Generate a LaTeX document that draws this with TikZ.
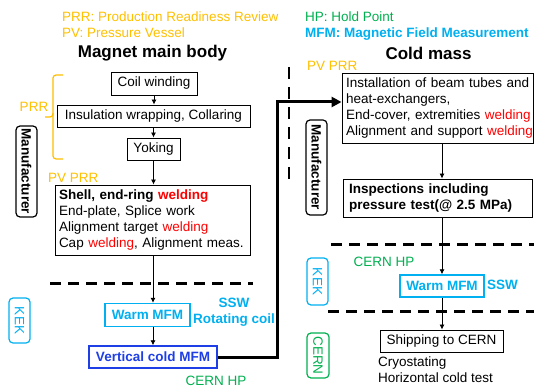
\documentclass[tikz,border=0pt]{standalone}
\usepackage{fontspec}
\setmainfont{Liberation Sans}
\usetikzlibrary{arrows.meta}
\definecolor{prrorange}{HTML}{FFC000}
\definecolor{hpgreen}{HTML}{00B050}
\definecolor{mfmblue}{HTML}{00B0F0}
\definecolor{vcblue}{HTML}{1F3FE6}
\definecolor{weldred}{HTML}{FF0000}
\newcommand{\weld}{\textcolor{weldred}{welding}}
\begin{document}
\begin{tikzpicture}[x=1pt,y=-1pt,
  font=\fontsize{13.5pt}{16pt}\selectfont,
  box/.style={draw=black, line width=0.9pt, inner sep=0pt, align=center},
  mbox/.style={draw=black, line width=0.9pt, inner xsep=4pt, inner ysep=0pt, align=left},
  flow/.style={draw=black, line width=0.8pt, -{Latex[length=5pt,width=5pt]}},
  sepline/.style={line width=3pt, dash pattern=on 11pt off 7pt},
  sidebox/.style={rounded corners=4pt, line width=1.2pt, rotate=-90, inner sep=0pt, align=center},
  note/.style={inner sep=0pt},
  titletext/.style={inner sep=0pt, font=\fontsize{17pt}{20pt}\selectfont\bfseries}
]
\fill[white] (0,0) rectangle (534,387);
\useasboundingbox (0,0) rectangle (534,387);

% legend
\node[note, anchor=west, text=prrorange] (lprr) at (62,17) {PRR: Production Readiness Review};
\node[note, anchor=west, text=prrorange] (lpv) at (62,33) {PV: Pressure Vessel};
\node[note, anchor=west, text=hpgreen] (lhp) at (305,17) {HP: Hold Point};
\node[note, anchor=west, text=mfmblue, font=\fontsize{13.5pt}{16pt}\selectfont\bfseries] (lmfm) at (305,34) {MFM: Magnetic Field Measurement};

% titles
\node[titletext] (t1) at (152.5,53) {Magnet main body};
\node[titletext] (t2) at (428.5,53) {Cold mass};

% left column
\node[box, minimum width=86pt, minimum height=23pt] (coil) at (154,83.5) {Coil winding};
\node[box, minimum width=193pt, minimum height=22pt] (ins) at (153.5,116) {Insulation wrapping, Collaring};
\node[box, minimum width=53pt, minimum height=22pt] (yoke) at (153.5,149) {Yoking};
\node[mbox, text width=187pt, minimum height=70pt] (shell) at (152.5,220)
  {\mbox{\textbf{Shell, end-ring \textcolor{weldred}{welding}}}\\\mbox{End-plate, Splice work}\\\mbox{Alignment target \weld}\\\mbox{Cap \weld, Alignment meas.}};
\node[box, draw=mfmblue, line width=1.4pt, text=mfmblue, font=\fontsize{13.5pt}{16pt}\selectfont\bfseries,
  minimum width=85pt, minimum height=23pt] (warmL) at (147.5,315) {Warm MFM};
\node[box, draw=vcblue, line width=1.4pt, text=vcblue, font=\fontsize{13.5pt}{16pt}\selectfont\bfseries,
  minimum width=128pt, minimum height=22pt] (vcold) at (153,357) {Vertical cold MFM};

\draw[flow] (coil.south) -- (coil.south |- ins.north);
\draw[flow] (ins.south -| yoke.north) -- (yoke.north);
\draw[flow] (yoke.south) -- (yoke.south |- shell.north);
\draw[flow] (153,255) -- (warmL.north -| 153,0);
\draw[flow] (warmL.south -| 153,0) -- (vcold.north -| 153,0);

% left annotations
\node[note, text=prrorange] (prrlab) at (34,107) {PRR};
\draw[prrorange, line width=1.2pt, rounded corners=3pt] (63,75) -- (53,75) -- (53,117) -- (45,117);
\draw[prrorange, line width=1.2pt, rounded corners=3pt] (53,113) -- (53,159) -- (63,159);
\node[note, anchor=west, text=prrorange] (pvprrL) at (48,178) {PV PRR};
\node[sidebox, draw=black, font=\fontsize{13.5pt}{16pt}\selectfont\bfseries, minimum width=91pt, minimum height=21pt] (manL) at (26.5,171.5) {Manufacturer};
\node[sidebox, draw=mfmblue, text=mfmblue, minimum width=45pt, minimum height=21pt] (kekL) at (19.5,320.5) {KEK};
\draw[sepline] (50,283) -- (253,283);
\node[note, text=mfmblue, font=\fontsize{13.5pt}{16pt}\selectfont\bfseries, align=center] (sswL) at (234,312) {SSW\\Rotating coil};
\node[note, text=hpgreen] (hpL) at (216,381) {CERN HP};

% right column
\node[mbox, inner xsep=4pt, text width=183pt, minimum height=70pt] (cm1) at (437.5,108)
  {\mbox{Installation of beam tubes and}\\\mbox{heat-exchangers,}\\\mbox{End-cover, extremities \weld}\\\mbox{Alignment and support \weld}};
\node[mbox, inner xsep=6pt, text width=177pt, minimum height=38pt, font=\fontsize{13.5pt}{16pt}\selectfont\bfseries] (insp) at (437.5,198)
  {Inspections including\\pressure test(@ 2.5 MPa)};
\node[box, draw=mfmblue, line width=1.4pt, text=mfmblue, font=\fontsize{13.5pt}{16pt}\selectfont\bfseries,
  minimum width=84pt, minimum height=22pt] (warmR) at (442,286) {Warm MFM};
\node[box, minimum width=123pt, minimum height=22pt] (ship) at (441.5,341) {Shipping to CERN};
\node[note, anchor=north west, align=left] (cryo) at (378,357) {Cryostating\\Horizontal cold test};

\draw[flow] (442,143) -- (insp.north -| 442,0);
\draw[flow] (insp.south -| 442,0) -- (warmR.north);
\draw[flow] (warmR.south) -- (warmR.south |- ship.north);

\node[note, anchor=west, text=prrorange] (pvprrR) at (307,65.5) {PV PRR};
\draw[line width=2.5pt, dash pattern=on 12pt off 8pt] (289,67) -- (289,180);
\node[sidebox, draw=black, font=\fontsize{13.5pt}{16pt}\selectfont\bfseries, minimum width=95pt, minimum height=21pt] (manR) at (316.5,167.5) {Manufacturer};
\draw[sepline] (331,244) -- (534,244);
\node[note, text=hpgreen] (hpR) at (384,262) {CERN HP};
\node[sidebox, draw=mfmblue, text=mfmblue, minimum width=47pt, minimum height=21pt] (kekR) at (317.5,281.5) {KEK};
\node[note, anchor=west, text=mfmblue, font=\fontsize{13.5pt}{16pt}\selectfont\bfseries] (sswR) at (487,285) {SSW};
\draw[sepline] (328,311) -- (534,311);
\node[sidebox, draw=hpgreen, text=hpgreen, minimum width=45pt, minimum height=22pt] (cernR) at (318,355.5) {CERN};

% thick connector
\coordinate (bendA) at (277,357);
\coordinate (bendB) at (277,102);
\draw[line width=3pt, -{Triangle[length=10pt,width=10pt]}] (vcold.east) -- (bendA) -- (bendB) -- (bendB -| cm1.west);
\end{tikzpicture}
\end{document}
